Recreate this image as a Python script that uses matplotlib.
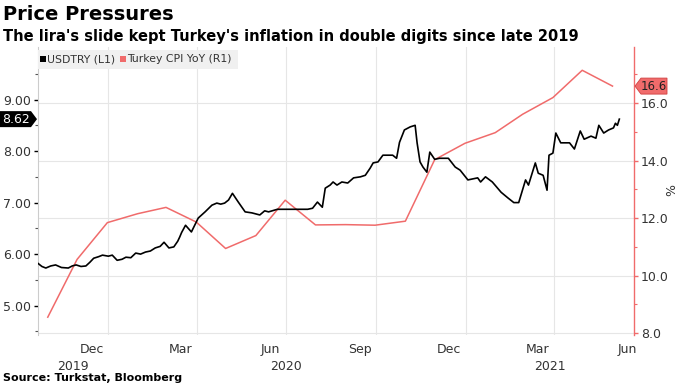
import matplotlib
matplotlib.use("Agg")
import matplotlib.pyplot as plt
import matplotlib.dates as mdates
from matplotlib.patches import Polygon
from matplotlib.transforms import IdentityTransform, blended_transform_factory
from matplotlib.ticker import FixedLocator
import pandas as pd

# ---------------- data ----------------
usd_dates = [
    "2019-10-21", "2019-10-25", "2019-10-29", "2019-11-03", "2019-11-08", "2019-11-14",
    "2019-11-21", "2019-11-25", "2019-11-29", "2019-12-04", "2019-12-09", "2019-12-13",
    "2019-12-17", "2019-12-22", "2019-12-26", "2020-01-01", "2020-01-05", "2020-01-10",
    "2020-01-15", "2020-01-19", "2020-01-24", "2020-01-29", "2020-02-03", "2020-02-08",
    "2020-02-13", "2020-02-18", "2020-02-23", "2020-02-27", "2020-03-03", "2020-03-08",
    "2020-03-12", "2020-03-14", "2020-03-16", "2020-03-20", "2020-03-26", "2020-04-02",
    "2020-04-09", "2020-04-16", "2020-04-21", "2020-04-25", "2020-04-29", "2020-05-03",
    "2020-05-07", "2020-05-13", "2020-05-20", "2020-05-27", "2020-06-04", "2020-06-09",
    "2020-06-13", "2020-06-22", "2020-07-05", "2020-07-23", "2020-07-28", "2020-08-02",
    "2020-08-07", "2020-08-10", "2020-08-15", "2020-08-18", "2020-08-22", "2020-08-27",
    "2020-09-02", "2020-09-08", "2020-09-15", "2020-09-20", "2020-09-25", "2020-09-28",
    "2020-10-03", "2020-10-08", "2020-10-13", "2020-10-18", "2020-10-22", "2020-10-25",
    "2020-10-30", "2020-11-05", "2020-11-10", "2020-11-12", "2020-11-15", "2020-11-18",
    "2020-11-22", "2020-11-25", "2020-11-30", "2020-12-05", "2020-12-14", "2020-12-21",
    "2020-12-26", "2021-01-03", "2021-01-13", "2021-01-16", "2021-01-21", "2021-01-28",
    "2021-02-06", "2021-02-13", "2021-02-19", "2021-02-24", "2021-03-03", "2021-03-06",
    "2021-03-13", "2021-03-16", "2021-03-21", "2021-03-25", "2021-03-27", "2021-03-31",
    "2021-04-03", "2021-04-08", "2021-04-17", "2021-04-22", "2021-04-28", "2021-05-02",
    "2021-05-09", "2021-05-14", "2021-05-17", "2021-05-22", "2021-05-27", "2021-06-01",
    "2021-06-03", "2021-06-05", "2021-06-07",
]
usd_values = [
    5.82, 5.76, 5.73, 5.77, 5.79, 5.74,
    5.73, 5.77, 5.79, 5.76, 5.77, 5.84,
    5.92, 5.95, 5.98, 5.96, 5.98, 5.88,
    5.90, 5.94, 5.93, 6.02, 6.00, 6.04,
    6.06, 6.12, 6.15, 6.23, 6.12, 6.14,
    6.25, 6.33, 6.42, 6.56, 6.43, 6.70,
    6.82, 6.95, 6.99, 6.97, 6.99, 7.05,
    7.18, 7.01, 6.82, 6.80, 6.76, 6.84,
    6.82, 6.87, 6.87, 6.87, 6.89, 7.01,
    6.91, 7.28, 7.34, 7.40, 7.34, 7.40,
    7.38, 7.48, 7.50, 7.53, 7.67, 7.77,
    7.79, 7.92, 7.92, 7.92, 7.86, 8.17,
    8.41, 8.47, 8.50, 8.16, 7.79, 7.69,
    7.59, 7.98, 7.84, 7.86, 7.86, 7.69,
    7.63, 7.44, 7.48, 7.40, 7.50, 7.40,
    7.20, 7.09, 7.00, 7.00, 7.44, 7.34,
    7.77, 7.57, 7.53, 7.24, 7.92, 7.96,
    8.35, 8.16, 8.16, 8.04, 8.39, 8.23,
    8.29, 8.25, 8.50, 8.35, 8.41, 8.45,
    8.54, 8.50, 8.62,
]
cpi_dates = [
    "2019-10-31", "2019-11-30", "2019-12-31", "2020-01-31", "2020-02-29", "2020-03-31",
    "2020-04-30", "2020-05-31", "2020-06-30", "2020-07-31", "2020-08-31", "2020-09-30",
    "2020-10-31", "2020-11-30", "2020-12-31", "2021-01-31", "2021-02-28", "2021-03-31",
    "2021-04-30", "2021-05-31",
]
cpi_values = [
    8.55, 10.56, 11.84, 12.15, 12.37, 11.86,
    10.94, 11.39, 12.62, 11.76, 11.77, 11.75,
    11.89, 14.03, 14.60, 14.97, 15.61, 16.19,
    17.14, 16.59,
]
month_ticks = ["2019-12-15", "2020-03-15", "2020-06-15", "2020-09-15",
               "2020-12-15", "2021-03-15", "2021-06-15"]
month_labels = ["Dec", "Mar", "Jun", "Sep", "Dec", "Mar", "Jun"]
year_pos = ["2019-11-26", "2020-07-01", "2021-03-28"]
year_labels = ["2019", "2020", "2021"]
grid_dates = ["2020-01-01", "2020-04-01", "2020-07-01", "2020-10-01",
              "2021-01-01", "2021-04-01"]

usd_d = pd.to_datetime(usd_dates)
cpi_d = pd.to_datetime(cpi_dates)

RED = "#f06b6b"
TXT = "#333333"
plt.rcParams["font.family"] = "DejaVu Sans"

W, H = 683, 384
fig = plt.figure(figsize=(W / 100, H / 100), dpi=100)
fig.patch.set_facecolor("white")

L, R, T, B = 38, 634, 47, 335
ax2 = fig.add_axes([L / W, 1 - B / H, (R - L) / W, (B - T) / H])
ax = ax2.twinx()
ax.yaxis.tick_left()
ax2.yaxis.tick_right()

ax2.plot(cpi_d, cpi_values, color=RED, lw=1.1, zorder=3)
ax.plot(usd_d, usd_values, color="black", lw=1.2, zorder=4)

ax.set_xlim(pd.Timestamp("2019-10-21"), pd.Timestamp("2021-06-22"))
ax.set_ylim(4.43, 10.02)
ax2.set_ylim(7.93, 17.95)

# left axis ticks
ax.yaxis.set_major_locator(FixedLocator([5, 6, 7, 8, 9]))
ax.yaxis.set_minor_locator(FixedLocator([4.5, 5.5, 6.5, 7.5, 8.5, 9.5]))
ax.set_yticklabels(["5.00", "6.00", "7.00", "8.00", "9.00"])
ax.tick_params(axis="y", which="major", length=3, width=1, color="black",
               labelsize=9, labelcolor=TXT, pad=2)
ax.tick_params(axis="y", which="minor", length=2, width=0.8, color="#555555")

# right axis ticks
ax2.yaxis.set_major_locator(FixedLocator([8, 10, 12, 14, 16]))
ax2.yaxis.set_minor_locator(FixedLocator([9, 11, 13, 15, 17]))
ax2.set_yticklabels(["8.0", "10.0", "12.0", "14.0", "16.0"])
ax2.tick_params(axis="y", which="major", length=3, width=1, color=RED,
                labelsize=9, labelcolor=TXT, pad=2)
ax2.tick_params(axis="y", which="minor", length=2, width=0.8, color=RED)
ax2.grid(axis="y", which="major", color="#e6e6e6", lw=0.8)
ax2.set_axisbelow(True)

# x axis
ax2.xaxis.set_major_locator(FixedLocator(mdates.date2num(pd.to_datetime(month_ticks))))
ax2.xaxis.set_minor_locator(FixedLocator(mdates.date2num(pd.to_datetime(grid_dates))))
ax2.set_xticklabels(month_labels)
ax2.tick_params(axis="x", which="both", length=0, labelsize=9, labelcolor=TXT, pad=6)
ax2.grid(axis="x", which="minor", color="#e6e6e6", lw=0.8)
ax.tick_params(axis="x", which="both", length=0, labelbottom=False)

trans = blended_transform_factory(ax2.transData, fig.transFigure)
for p, lab in zip(year_pos, year_labels):
    ax2.text(mdates.date2num(pd.Timestamp(p)), 1 - 366 / H, lab, transform=trans,
             ha="center", va="center", fontsize=9, color=TXT)

for a in (ax, ax2):
    for s in ("top", "bottom"):
        a.spines[s].set_visible(False)
ax.spines["right"].set_visible(False)
ax2.spines["left"].set_visible(False)
ax.spines["left"].set_color("#cccccc")
ax.spines["left"].set_linewidth(0.8)
ax2.spines["right"].set_color(RED)
ax2.spines["right"].set_linewidth(1.0)

fig.text(668 / W, 1 - 190 / H, "%", rotation=-90, fontsize=9, color=TXT,
         ha="center", va="center")

# legend box
fig.patches.append(Polygon([[38, H - 50], [238, H - 50], [238, H - 69], [38, H - 69]],
                           closed=True, transform=IdentityTransform(),
                           facecolor="#f0f0f0", edgecolor="none", zorder=5))
fig.patches.append(Polygon([[40, H - 56], [46, H - 56], [46, H - 62], [40, H - 62]],
                           closed=True, transform=IdentityTransform(),
                           facecolor="black", edgecolor="none", zorder=6))
fig.patches.append(Polygon([[120, H - 56], [126, H - 56], [126, H - 62], [120, H - 62]],
                           closed=True, transform=IdentityTransform(),
                           facecolor=RED, edgecolor="none", zorder=6))
fig.text(47 / W, 1 - 59.5 / H, "USDTRY (L1)", fontsize=7.8, color=TXT, va="center", ha="left", zorder=7)
fig.text(127 / W, 1 - 59.5 / H, "Turkey CPI YoY (R1)", fontsize=7.8, color=TXT, va="center", ha="left", zorder=7)

# titles
fig.text(3 / W, 1 - 15 / H, "Price Pressures", fontsize=14, fontweight="bold",
         color="black", va="center", ha="left")
fig.text(3 / W, 1 - 36 / H,
         "The lira's slide kept Turkey's inflation in double digits since late 2019",
         fontsize=10.5, fontweight="bold", color="black", va="center", ha="left")
fig.text(3 / W, 1 - 378 / H, "Source: Turkstat, Bloomberg", fontsize=8,
         fontweight="bold", color="black", va="center", ha="left")

# value tags
fig.canvas.draw()
y_usd = ax.transData.transform((0, usd_values[-1]))[1]
y_cpi = ax2.transData.transform((0, cpi_values[-1]))[1]
hh = 8
fig.patches.append(Polygon([[0, y_usd - hh], [31, y_usd - hh], [37, y_usd], [31, y_usd + hh], [0, y_usd + hh]],
                           closed=True, transform=IdentityTransform(), facecolor="black",
                           edgecolor="none", zorder=8))
fig.text(16 / W, y_usd / H, f"{usd_values[-1]:.2f}", color="white", fontsize=9,
         ha="center", va="center", zorder=9)
fig.patches.append(Polygon([[635, y_cpi], [641, y_cpi - hh], [667, y_cpi - hh], [667, y_cpi + hh], [641, y_cpi + hh]],
                           closed=True, transform=IdentityTransform(), facecolor=RED,
                           edgecolor="#d04040", lw=0.6, zorder=8))
fig.text(654 / W, y_cpi / H, f"{cpi_values[-1]:.1f}", color="#222222", fontsize=8.5,
         ha="center", va="center", zorder=9)

fig.savefig("out.png", dpi=100)
